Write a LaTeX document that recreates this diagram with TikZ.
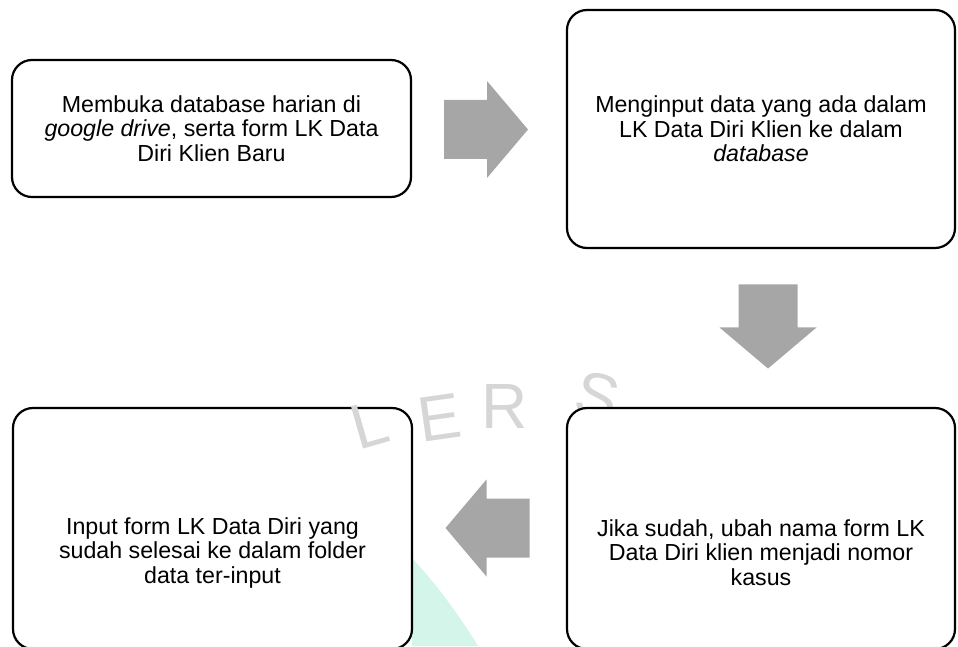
\documentclass[tikz,border=0pt]{standalone}
\usepackage{fontspec}
\setmainfont{Liberation Sans}
\usetikzlibrary{calc}
\definecolor{arrowgray}{HTML}{A6A6A6}
\definecolor{markgray}{HTML}{D6D6D6}
\definecolor{markmint}{HTML}{D4F5EA}
\begin{document}
\begin{tikzpicture}[x=1pt,y=1pt,
  stepbox/.style={draw,line width=2.2pt,rounded corners=20pt,fill=white,inner sep=0pt},
  steptext/.style={align=center,inner sep=0pt,font=\fontsize{23.2}{24.5}\selectfont},
  wmark/.style={text=markgray,inner sep=0pt,font=\fontsize{64}{64}\selectfont},
  blockarrow/.pic={\fill[arrowgray] (-42,-29.5) -- (1,-29.5) -- (1,-48.5) -- (42,0) -- (1,48.5) -- (1,29.5) -- (-42,29.5) -- cycle;}]
\useasboundingbox (0,0) rectangle (958,646);
% watermark behind the boxes
\fill[markmint] (412,88) .. controls (440,58) and (462,26) .. (478,0) -- (412,0) -- cycle;
\node[wmark,rotate=8] (we) at (440,228) {E};
\node[wmark] (wr) at (505,240) {R};
\node[wmark,rotate=-14] (ws) at (598,250) {S};
% steps
\node[stepbox,minimum width=399pt,minimum height=137pt] (b1) at (211.5,517.5) {};
\node[stepbox,minimum width=388pt,minimum height=238pt] (b2) at (761,517) {};
\node[stepbox,minimum width=388pt,minimum height=241pt] (b3) at (761,117.5) {};
\node[stepbox,minimum width=399pt,minimum height=241pt] (b4) at (212.5,117.5) {};
\node[wmark,rotate=16] (wl) at (370,222) {L};
\node[steptext] (t1) at (b1.center) {Membuka database harian di\\\textit{google drive}, serta form LK Data\\Diri Klien Baru};
\node[steptext] (t2) at (b2.center) {Menginput data yang ada dalam\\LK Data Diri Klien ke dalam\\\textit{database}};
\node[steptext] (t3) at ([yshift=-24pt]b3.center) {Jika sudah, ubah nama form LK\\Data Diri klien menjadi nomor\\kasus};
\node[steptext] (t4) at ([yshift=-24pt]b4.center) {Input form LK Data Diri yang\\sudah selesai ke dalam folder\\data ter-input};
% block arrows
\pic at (486,516.5) {blockarrow};
\pic[rotate=-90] at (768,319.5) {blockarrow};
\pic[rotate=180] at (487.5,118) {blockarrow};
\end{tikzpicture}
\end{document}
